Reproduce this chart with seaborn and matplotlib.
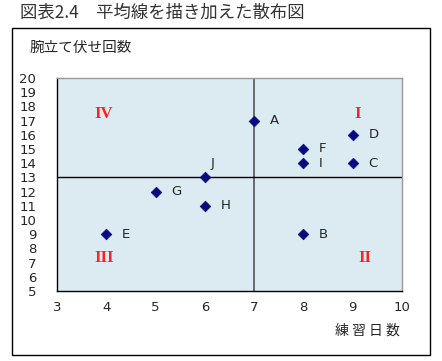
import matplotlib
matplotlib.use("Agg")
import matplotlib.pyplot as plt
import seaborn as sns
import pandas as pd
from matplotlib.patches import Rectangle

names = ["A", "B", "C", "D", "E", "F", "G", "H", "I", "J"]
days = [7, 8, 9, 9, 4, 8, 5, 6, 8, 6]
pushups = [17, 9, 14, 16, 9, 15, 12, 11, 14, 13]
quadrants = ["I", "II", "III", "IV"]
quad_pos_x = [9.1, 9.25, 3.95, 3.95]
quad_pos_y = [17.5, 7.3, 7.3, 17.5]

df = pd.DataFrame({"name": names, "x": days, "y": pushups})

sns.set_theme(style="white")
plt.rcParams["font.family"] = ["Noto Sans CJK JP", "DejaVu Sans"]

fig = plt.figure(figsize=(4.42, 3.61), dpi=100)
fig.patch.set_facecolor("white")

# outer box
fig.patches.append(Rectangle((12/442, 1 - 355/361), (430-12)/442, (355-28)/361,
                             transform=fig.transFigure, fill=False,
                             edgecolor="black", linewidth=1.0))
fig.text(20/442, 1 - 13/361, "図表2.4　平均線を描き加えた散布図", fontsize=12.5,
         va="center", ha="left", color="#333333")
fig.text(30/442, 1 - 48/361, "腕立て伏せ回数", fontsize=10.5, va="center", ha="left")
fig.text(400/442, 1 - 331/361, "練 習 日 数", fontsize=10, va="center", ha="right")

ax = fig.add_axes([57/442, 1 - 291/361, (402-57)/442, (291-78)/361])
ax.set_facecolor("#DCEBF2")
mx = sum(days) / len(days)
my = sum(pushups) / len(pushups)
ax.axvline(mx, color="#555555", lw=1.2, zorder=1)
ax.axhline(my, color="black", lw=1.0, zorder=1)

sns.scatterplot(data=df, x="x", y="y", marker="D", color="#0A0A80", s=30,
                edgecolor="#0A0A80", ax=ax, zorder=3)
for n, x, y in zip(names, days, pushups):
    if n == "J":
        ax.text(x + 0.12, y + 1.0, n, fontsize=9.5, va="center", ha="left",
                family=["DejaVu Sans"])
    else:
        ax.text(x + 0.32, y, n, fontsize=9.5, va="center", ha="left",
                family=["DejaVu Sans"])
for q, qx, qy in zip(quadrants, quad_pos_x, quad_pos_y):
    ax.text(qx, qy, q, color="#FF2020", fontsize=12, fontweight="bold",
            ha="center", va="center", family=["Liberation Serif"])

ax.set_xlim(3, 10)
ax.set_ylim(5, 20)
ax.set_xticks(range(3, 11))
ax.set_yticks(range(5, 21))
ax.set_xlabel("")
ax.set_ylabel("")
ax.tick_params(axis="both", direction="in", length=3, labelsize=9.5, color="black",
               pad=7)
ax.tick_params(axis="y", pad=15)
for lbl in ax.get_xticklabels() + ax.get_yticklabels():
    lbl.set_family(["DejaVu Sans"])
ax.spines["left"].set_color("black")
ax.spines["bottom"].set_color("black")
ax.spines["top"].set_color("#999999")
ax.spines["right"].set_color("#999999")
for s in ax.spines.values():
    s.set_linewidth(1.0)

fig.savefig("out.png", dpi=100)
